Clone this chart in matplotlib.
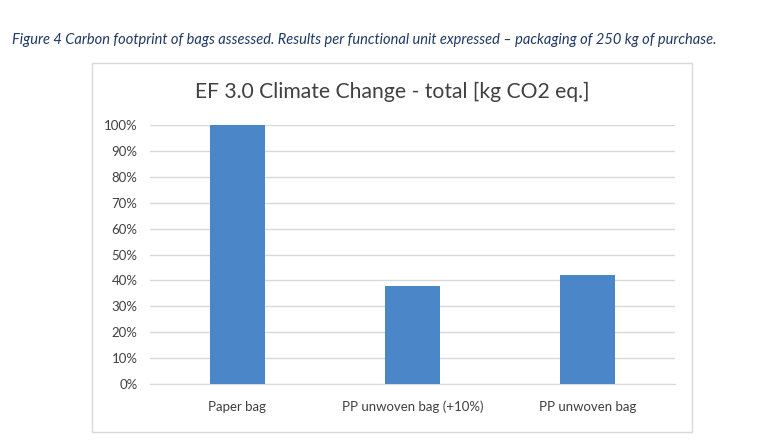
import matplotlib.pyplot as plt
from matplotlib.patches import Rectangle
from matplotlib.ticker import PercentFormatter

# data
categories = ['Paper bag', 'PP unwoven bag (+10%)', 'PP unwoven bag']
values = [100, 38, 42]
yticks = list(range(0, 101, 10))

bar_color = '#4A86C8'
grid_color = '#D9D9D9'
text_color = '#404040'

plt.rcParams['font.family'] = ['Lato', 'DejaVu Sans']

W, H = 782, 442
fig = plt.figure(figsize=(W / 100, H / 100), dpi=100)

# caption above the chart
fig.text(12 / W, 1 - 40 / H,
         'Figure 4 Carbon footprint of bags assessed. Results per functional unit expressed \u2013 packaging of 250 kg of purchase.',
         fontsize=10.5, style='italic', color='#1F3864', va='center', ha='left')

# chart frame (excel style border)
fig.patches.append(Rectangle((92 / W, 1 - 432 / H), (692 - 92) / W, (432 - 63) / H,
                             transform=fig.transFigure, fill=False,
                             edgecolor='#D9D9D9', linewidth=1.0))

# plot area
ax = fig.add_axes([150 / W, 1 - 384 / H, (675 - 150) / W, (384 - 125) / H])
x = range(len(categories))
ax.bar(x, values, width=0.315, color=bar_color, zorder=3)
ax.set_xlim(-0.5, len(categories) - 0.5)
ax.set_ylim(0, 100)
ax.set_yticks(yticks)
ax.yaxis.set_major_formatter(PercentFormatter(decimals=0))
ax.set_xticks(list(x))
ax.set_xticklabels(categories)
ax.grid(axis='y', color=grid_color, linewidth=1.0, zorder=0)
ax.tick_params(axis='both', length=0, labelsize=9.5, labelcolor=text_color)
ax.tick_params(axis='x', pad=12)
ax.tick_params(axis='y', pad=9)
for s in ['top', 'right', 'left']:
    ax.spines[s].set_visible(False)
ax.spines['bottom'].set_color(grid_color)

fig.text(392 / W, 1 - 92 / H,
         'EF 3.0 Climate Change - total [kg CO2 eq.]',
         fontsize=15.2, color=text_color, ha='center', va='center')

fig.savefig('out.png', dpi=100)
